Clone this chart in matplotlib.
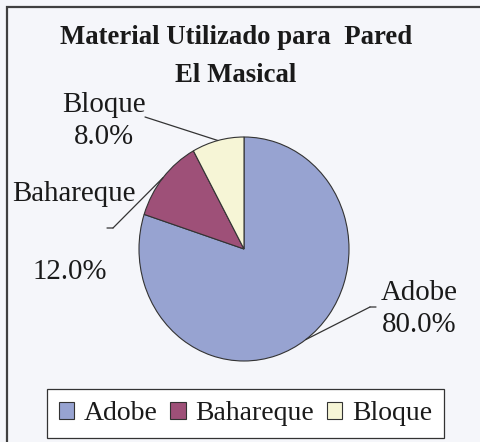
import numpy as np
import matplotlib
matplotlib.use("Agg")
import matplotlib.pyplot as plt
from matplotlib import font_manager
from matplotlib.patches import Patch, Rectangle

# datos
materiales = ["Adobe", "Bahareque", "Bloque"]
porcentajes = [80.0, 12.0, 8.0]
colores = ["#97A3D1", "#9E5078", "#F6F5D6"]

W, H = 481, 442
fondo = "#F5F6FA"

# buscar una fuente tipo Times
nombres = {f.name for f in font_manager.fontManager.ttflist}
serif = [n for n in ["Liberation Serif", "Times New Roman", "Nimbus Roman"] if n in nombres]
plt.rcParams["font.family"] = "serif"
plt.rcParams["font.serif"] = serif + ["DejaVu Serif"]

fig = plt.figure(figsize=(W / 100, H / 100), dpi=100, facecolor=fondo)

# marco del grafico (cortado a la derecha y abajo)
fig.add_artist(Rectangle((7 / W, -0.5), 2.0, 1.5 - 7 / H, transform=fig.transFigure,
                         fill=False, edgecolor="#404040", linewidth=1.6))

# area del pie en pixeles: x 139-349, y 137-361
ax = fig.add_axes([139 / W, 1 - 361 / H, 210 / W, 224 / H])
wedges, _ = ax.pie(porcentajes, colors=colores, startangle=90, counterclock=False,
                   wedgeprops=dict(edgecolor="#333333", linewidth=0.8))
ax.set_aspect("auto")
ax.set_xlim(-1, 1)
ax.set_ylim(-1, 1)
ax.axis("off")

fig.text(236 / W, 1 - 38 / H, "Material Utilizado para  Pared", ha="center", va="center",
         fontsize=19.3, fontweight="bold", color="#1a1a1a")
fig.text(236 / W, 1 - 75 / H, "El Masical", ha="center", va="center",
         fontsize=19.3, fontweight="bold", color="#1a1a1a")

# etiquetas: (texto, centro x, centro y) en pixeles de la imagen
etiquetas = [
    ("Adobe\n80.0%", 419, 309),
    ("Bahareque", 74, 194),
    ("12.0%", 70, 272),
    ("Bloque\n8.0%", 104, 121),
]
for txt, x, y in etiquetas:
    fig.text(x / W, 1 - y / H, txt, ha="center", va="center", fontsize=20.8,
             color="#1a1a1a", linespacing=1.35)

# lineas guia desde el punto medio de cada sector
angulos = []
acum = 0
for p in porcentajes:
    medio = 90 - (acum + p / 2) * 3.6
    angulos.append(np.deg2rad(medio))
    acum += p

inicio = {"Adobe": (370, 307), "Bahareque": (113, 228), "Bloque": (145, 117)}
tramo = {"Adobe": (376, 307), "Bahareque": (107, 228)}
for nombre, ang in zip(materiales, angulos):
    x0, y0 = inicio[nombre]
    ax.annotate("", xy=(np.cos(ang), np.sin(ang)), xycoords="data",
                xytext=(x0, H - y0), textcoords="figure pixels",
                arrowprops=dict(arrowstyle="-", color="#333333", lw=0.9,
                                shrinkA=0, shrinkB=0))
    if nombre in tramo:
        x1, y1 = tramo[nombre]
        ax.annotate("", xy=(x1, H - y1), xycoords="figure pixels",
                    xytext=(x0, H - y0), textcoords="figure pixels",
                    arrowprops=dict(arrowstyle="-", color="#333333", lw=0.9,
                                    shrinkA=0, shrinkB=0))

handles = [Patch(facecolor=c, edgecolor="#333333", linewidth=0.8) for c in colores]
leg = fig.legend(handles, materiales, loc="center", ncol=3,
                 bbox_to_anchor=(245.5 / W, 1 - 413.5 / H), fontsize=20,
                 handlelength=0.55, handleheight=0.55, handletextpad=0.35,
                 columnspacing=0.45, borderpad=0.42, borderaxespad=0,
                 frameon=True, fancybox=False,
                 edgecolor="#333333", facecolor="white", framealpha=1)
leg.get_frame().set_linewidth(0.9)
for t in leg.get_texts():
    t.set_color("#1a1a1a")

fig.savefig("out.png", dpi=100, facecolor=fondo)
